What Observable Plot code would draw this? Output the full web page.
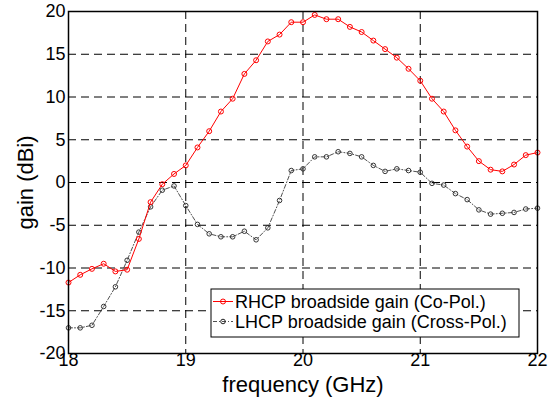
<!DOCTYPE html>
<html>
<head>
<meta charset="utf-8">
<script src="https://cdn.jsdelivr.net/npm/d3@7"></script>
<script src="https://cdn.jsdelivr.net/npm/@observablehq/plot@0.6"></script>
<style>
  html, body { margin: 0; padding: 0; background: #fff; }
  #chart { position: relative; width: 553px; height: 399px; }
</style>
</head>
<body>
<div id="chart"></div>
<script>
const freq = [18.0,18.1,18.2,18.3,18.4,18.5,18.6,18.7,18.8,18.9,19.0,19.1,19.2,19.3,19.4,19.5,19.6,19.7,19.8,19.9,20.0,20.1,20.2,20.3,20.4,20.5,20.6,20.7,20.8,20.9,21.0,21.1,21.2,21.3,21.4,21.5,21.6,21.7,21.8,21.9,22.0];
const rhcp = [-11.7,-10.8,-10.1,-9.5,-10.4,-10.2,-6.6,-2.3,-0.2,1.0,2.0,4.1,6.0,8.3,9.8,12.7,14.3,16.5,17.3,18.75,18.75,19.6,19.1,19.1,18.2,17.6,16.6,15.6,14.6,13.3,11.9,9.8,8.3,6.1,4.2,2.5,1.5,1.3,2.1,3.2,3.5];
const lhcp = [-17.0,-17.0,-16.7,-14.5,-12.2,-9.1,-5.8,-2.85,-0.9,-0.4,-2.7,-4.9,-6.0,-6.35,-6.35,-5.7,-6.7,-5.3,-2.1,1.4,1.6,3.0,3.0,3.6,3.4,3.0,2.0,1.3,1.6,1.4,1.2,-0.1,-0.3,-1.3,-2.0,-3.2,-3.7,-3.6,-3.5,-3.1,-3.0];
const seriesNames = ["RHCP broadside gain (Co-Pol.)", "LHCP broadside gain (Cross-Pol.)"];
const xTicks = [18, 19, 20, 21, 22];
const yTicks = [-20, -15, -10, -5, 0, 5, 10, 15, 20];
const xLabel = "frequency (GHz)";
const yLabel = "gain (dBi)";

const red = freq.map((f, i) => ({f, g: rhcp[i]}));
const blk = freq.map((f, i) => ({f, g: lhcp[i]}));
const fmt = d => String(d);

const plot = Plot.plot({
  width: 553,
  height: 399,
  marginLeft: 68,
  marginRight: 16,
  marginTop: 11,
  marginBottom: 46,
  style: {fontFamily: "Liberation Sans, Arial, sans-serif", fontSize: "18px", color: "#000", background: "#fff"},
  x: {domain: [18, 22]},
  y: {domain: [-20, 20]},
  marks: [
    Plot.gridX(xTicks.slice(1, -1), {stroke: "#000", strokeOpacity: 1, strokeWidth: 1, strokeDasharray: "8,5"}),
    Plot.gridY(yTicks.slice(1, -1), {stroke: "#000", strokeOpacity: 1, strokeWidth: 1, strokeDasharray: "8,5"}),
    Plot.axisX(xTicks, {tickSize: 0, tickPadding: 0, label: null, fontSize: 18, tickFormat: fmt}),
    Plot.axisY(yTicks, {tickSize: 0, tickPadding: 3, label: null, fontSize: 18, tickFormat: fmt}),
    Plot.line(blk, {x: "f", y: "g", stroke: "#222", strokeWidth: 0.8, strokeDasharray: "4,2,1,2"}),
    Plot.dot(blk, {x: "f", y: "g", r: 2.3, stroke: "#222", strokeWidth: 0.9, fill: "none"}),
    Plot.line(red, {x: "f", y: "g", stroke: "#ff0000", strokeWidth: 1}),
    Plot.dot(red, {x: "f", y: "g", r: 2.5, stroke: "#ff0000", strokeWidth: 1, fill: "none"}),
    Plot.frame({stroke: "#000", strokeWidth: 1.5}),
    Plot.text([xLabel], {frameAnchor: "bottom", dy: 31, fontSize: 22, lineAnchor: "middle", textAnchor: "middle"}),
    Plot.text([yLabel], {frameAnchor: "left", dx: -43, rotate: -90, fontSize: 22, lineAnchor: "middle", textAnchor: "middle"})
  ]
});
document.getElementById("chart").appendChild(plot);

// legend inside the plot (MATLAB style box)
const svg = d3.select(plot);
const lg = svg.append("g")
  .attr("font-family", "Liberation Sans, Arial, sans-serif")
  .attr("font-size", 18)
  .attr("text-anchor", "start");
lg.append("rect").attr("x", 211).attr("y", 289).attr("width", 308).attr("height", 48)
  .attr("fill", "#fff").attr("stroke", "#000").attr("stroke-width", 1);
const styles = [
  {stroke: "#ff0000", dash: null, r: 2.5},
  {stroke: "#222", dash: "4,2,1,2", r: 2.3}
];
seriesNames.forEach((name, i) => {
  const yy = 301.5 + i * 20;
  lg.append("line").attr("x1", 213).attr("x2", 233).attr("y1", yy).attr("y2", yy)
    .attr("stroke", styles[i].stroke).attr("stroke-width", i ? 0.8 : 1)
    .attr("stroke-dasharray", styles[i].dash);
  lg.append("circle").attr("cx", 223).attr("cy", yy).attr("r", styles[i].r)
    .attr("fill", "none").attr("stroke", styles[i].stroke);
  lg.append("text").attr("x", 235).attr("y", yy).attr("dy", "0.35em")
    .attr("text-anchor", "start").attr("fill", "#000").text(name);
});
</script>
</body>
</html>
